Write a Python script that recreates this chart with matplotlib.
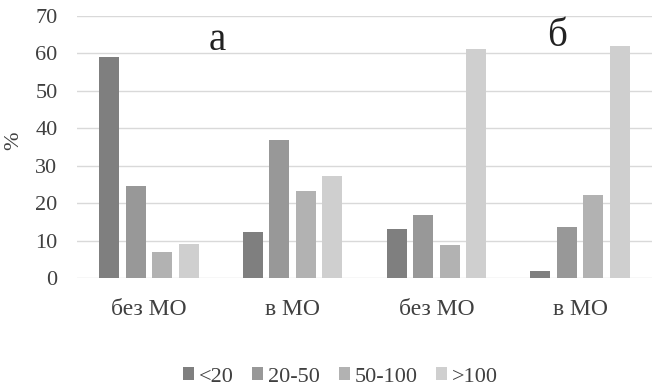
import matplotlib
matplotlib.use("Agg")
import matplotlib.pyplot as plt
import numpy as np

categories = ["без МО", "в МО", "без МО", "в МО"]
series_names = ["<20", "20-50", "50-100", ">100"]
v_lt20 = [59.0, 12.2, 13.0, 1.9]
v_20_50 = [24.6, 36.9, 16.7, 13.6]
v_50_100 = [6.9, 23.2, 8.8, 22.2]
v_gt100 = [9.0, 27.3, 61.1, 61.9]
colors = ["#7f7f7f", "#989898", "#b2b2b2", "#cfcfcf"]

plt.rcParams['font.family'] = ['Liberation Serif', 'DejaVu Serif']

fig = plt.figure(figsize=(6.52, 3.87), dpi=100)
ax = fig.add_axes([77/652, 1-278/387, 575/652, 262/387])

x = np.arange(len(categories))
w = 0.139
step = 0.184
for i, (vals, c, name) in enumerate(zip([v_lt20, v_20_50, v_50_100, v_gt100], colors, series_names)):
    ax.bar(x + (i - 1.5) * step, vals, width=w, color=c, label=name, zorder=3)

ax.set_xlim(-0.5, 3.5)
ax.set_ylim(0, 70)
ax.set_yticks(range(0, 71, 10))
ax.yaxis.grid(True, color="#d9d9d9", linewidth=1, zorder=0)
for s in ax.spines.values():
    s.set_visible(False)
ax.tick_params(axis='both', length=0, colors="#404040")
ax.tick_params(axis='y', pad=14, labelsize=16)
ax.tick_params(axis='x', pad=15, labelsize=17)
ax.set_xticks(x)
ax.set_xticklabels(categories)
ax.set_ylabel("%", fontsize=16, color="#404040", labelpad=0)
ax.yaxis.set_label_coords(-54/575, 0.525)

ax.text(0.474, 63.4, "а", fontsize=28, ha="center", va="center", color="#222222")
ax.text(2.84, 64.6, "б", fontsize=28, ha="center", va="center", color="#222222")

fig.legend(loc="center", bbox_to_anchor=(0.522, 1-377/387), ncol=4, frameon=False,
           fontsize=16, handlelength=0.5, handleheight=0.5, handletextpad=0.2,
           columnspacing=0.85, labelcolor="#404040")

fig.savefig("out.png", dpi=100)
